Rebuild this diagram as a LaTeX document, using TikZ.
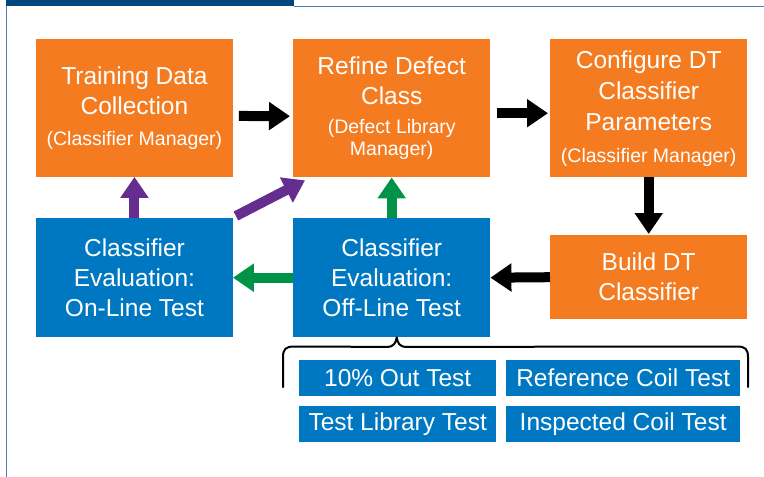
\documentclass[tikz,border=0pt]{standalone}
\usepackage{fontspec}
\setmainfont{Liberation Sans}
\usetikzlibrary{arrows.meta,calc}
\definecolor{dtorange}{HTML}{F47B20}
\definecolor{dtblue}{HTML}{0078C1}
\definecolor{dtpurple}{HTML}{662D91}
\definecolor{dtgreen}{HTML}{009247}
\definecolor{dtnavy}{HTML}{00467F}
\definecolor{dtrule}{HTML}{4A7FB5}
\begin{document}
\begin{tikzpicture}[x=1pt,y=-1pt,
  box/.style={anchor=north west,inner sep=0pt,text=white,align=center,
    font=\fontsize{24.5}{30}\selectfont},
  obox/.style={box,fill=dtorange},
  bbox/.style={box,fill=dtblue},
  tbox/.style={box,fill=dtblue,minimum height=36pt},
  fat/.style={line width=10pt,-{Triangle[length=21pt,width=27pt]}}]
\useasboundingbox (0,0) rectangle (764,477);
% frame: title bar and rules
\fill[dtnavy] (6,0) rectangle (294,6);
\draw[dtrule,line width=1.2pt] (294,6.5) -- (764,6.5);
\draw[dtrule,line width=1.2pt] (6.5,6) -- (6.5,477);
\newcommand{\sm}[1]{{\fontsize{19.5}{22}\selectfont #1}}
% process boxes
\node[obox,minimum width=196.5pt,minimum height=137.5pt] (collect) at (36,39)
  {Training Data\\Collection\\[1pt]\sm{(Classifier Manager)}};
\node[obox,minimum width=197pt,minimum height=138pt] (refine) at (293,39)
  {Refine Defect\\Class\\[-1pt]\sm{(Defect Library}\\[-8pt]\sm{Manager)}};
\node[obox,minimum width=197pt,minimum height=138pt] (config) at (550,39)
  {Configure DT\\[1pt]Classifier\\[1pt]Parameters\\[2pt]\sm{(Classifier Manager)}};
\node[obox,minimum width=197pt,minimum height=84pt] (build) at (550,235)
  {Build DT\\Classifier};
\node[bbox,minimum width=196.5pt,minimum height=119pt] (online) at (36,218)
  {Classifier\\Evaluation:\\On-Line Test};
\node[bbox,minimum width=197pt,minimum height=119pt] (offline) at (293,218)
  {Classifier\\Evaluation:\\Off-Line Test};
% off-line test variants
\node[tbox,minimum width=197pt] (tout) at (299,360) {10\% Out Test};
\node[tbox,minimum width=234pt] (tref) at (506,360) {Reference Coil Test};
\node[tbox,minimum width=197pt] (tlib) at (299,406) {Test Library Test};
\node[tbox,minimum width=234pt] (tins) at (506,406) {Inspected Coil Test};
% connectors
\draw[fat] ($(collect.east)+(6,8)$) -- ($(refine.west)+(-3,8)$);
\draw[fat] ($(refine.east)+(7,5)$) -- ($(config.west)+(-2,5)$);
\draw[fat] (config.south) -- ($(build.north)+(0,-1)$);
\draw[fat] (build.west) -- (offline.east);
\draw[fat,dtgreen] (offline.west) -- (online.east);
\draw[fat,dtgreen] (offline.north) -- (refine.south);
\draw[fat,dtpurple] (online.north) -- (collect.south);
\draw[fat,dtpurple] ($(online.north east)+(3,-2)$) -- ($(refine.south west)+(12,3)$);
% brace grouping the test variants
\coordinate (btip) at ($(offline.south)+(5,0)$);
\draw[line width=2pt,line cap=round,line join=round]
  (283,387) -- (283,357) .. controls (283,349) and (286,346.5) .. (294,346.5)
  -- ($(btip)+(-10,9.5)$) .. controls ($(btip)+(-3,9.5)$) and ($(btip)+(-1,6)$) .. (btip)
  .. controls ($(btip)+(1,6)$) and ($(btip)+(3,9.5)$) .. ($(btip)+(10,9.5)$)
  -- (737,346.5) .. controls (745,346.5) and (748,349) .. (748,357) -- (748,387);
\end{tikzpicture}
\end{document}
